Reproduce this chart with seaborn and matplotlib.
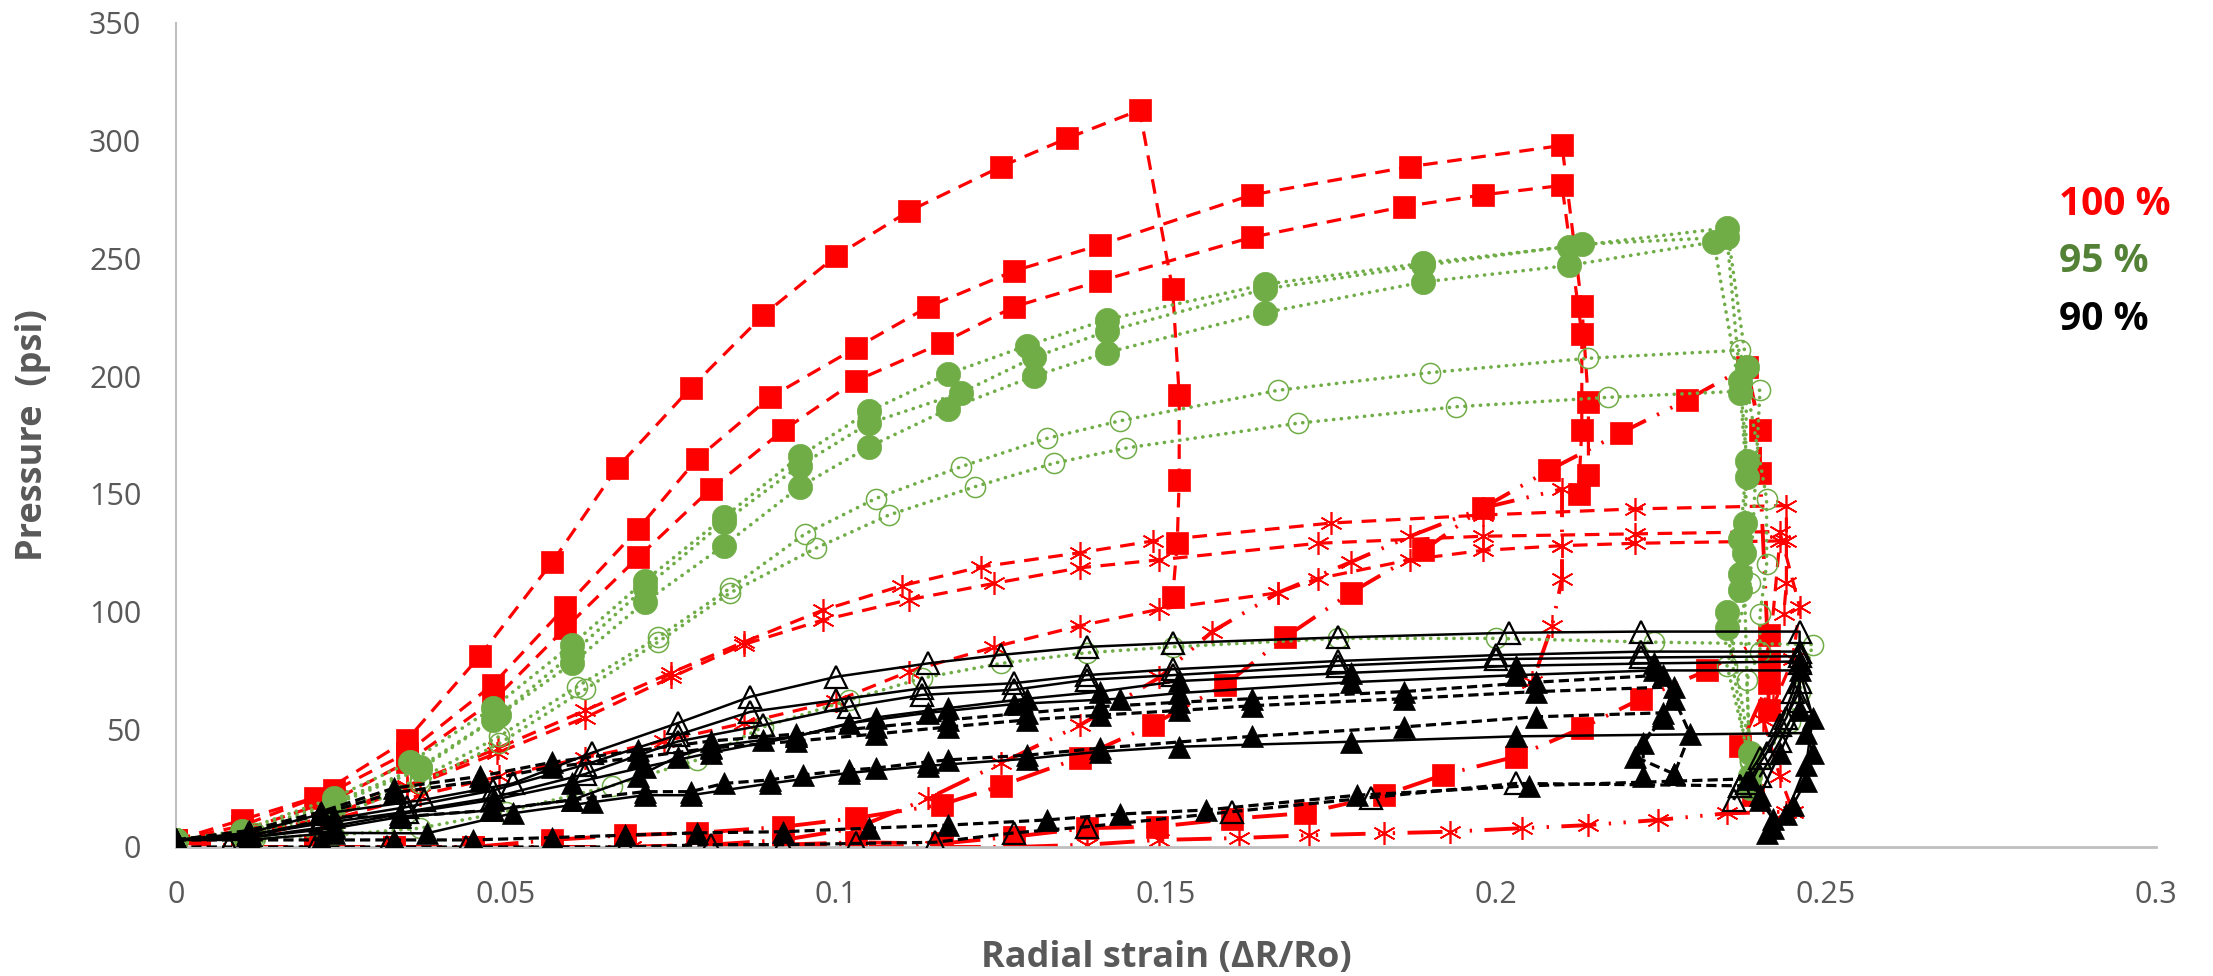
import matplotlib
matplotlib.use("Agg")
import matplotlib.pyplot as plt
import pandas as pd
import seaborn as sns

# ---------------- data ----------------
# 100 % : red squares, dashed
r1_x = [0, 0.010, 0.021, 0.035, 0.046, 0.057, 0.0668, 0.078, 0.089, 0.100, 0.111, 0.125, 0.135, 0.146, 0.151, 0.152, 0.152, 0.1517, 0.151]
r1_y = [3, 11.5, 21, 45.5, 81, 121, 161, 195, 226, 251, 270, 289, 301, 313, 237, 192, 156, 129, 106]
r2_x = [0, 0.010, 0.024, 0.035, 0.048, 0.059, 0.070, 0.079, 0.090, 0.103, 0.114, 0.127, 0.140, 0.163, 0.187, 0.210, 0.213, 0.214, 0.214]
r2_y = [3, 9, 24, 40, 69, 102, 135, 165, 191, 212, 229.5, 244.7, 255.7, 277, 289, 298, 230, 189, 158]
r3_x = [0, 0.010, 0.024, 0.035, 0.048, 0.059, 0.070, 0.081, 0.092, 0.103, 0.116, 0.127, 0.140, 0.163, 0.186, 0.198, 0.210, 0.213, 0.213, 0.2125]
r3_y = [3, 7, 20, 36, 62, 93, 123, 152, 177, 198, 214, 229.5, 240.4, 259, 272, 277, 281, 218, 177, 150]
# 100 % : red squares, long dash-dot-dot
r4_x = [0, 0.010, 0.021, 0.033, 0.045, 0.057, 0.068, 0.079, 0.092, 0.103, 0.116, 0.125, 0.137, 0.148, 0.159, 0.168, 0.178, 0.189, 0.198, 0.208, 0.219, 0.229, 0.238, 0.240, 0.240, 0.2413, 0.2413]
r4_y = [3, 0, 0, 0, 0, 3, 5, 6, 8.6, 12.3, 18, 26, 38, 52, 69, 89, 108, 126, 144, 160, 176, 190, 204, 177, 159, 79, 58]
r5_x = [0, 0.010, 0.021, 0.033, 0.045, 0.057, 0.068, 0.081, 0.092, 0.103, 0.116, 0.127, 0.138, 0.1486, 0.160, 0.171, 0.183, 0.192, 0.203, 0.213, 0.222, 0.232, 0.2413, 0.2413, 0.237, 0.239]
r5_y = [3, 0, 0, 0, 0, 0, 0, 1, 1, 2, 1.5, 4.4, 8, 8.6, 12, 14.4, 22, 30.6, 38.4, 50.5, 63, 75, 90, 69.6, 43, 22]
# 100 % : red asterisks, dashed
a1_x = [0, 0.010, 0.022, 0.035, 0.0488, 0.062, 0.075, 0.086, 0.098, 0.110, 0.122, 0.137, 0.148, 0.175, 0.198, 0.221, 0.244, 0.244, 0.244, 0.2436]
a1_y = [2, 5, 12, 26, 42, 58, 74, 87, 100.6, 111, 119, 125, 130, 137.6, 141, 143.6, 145, 130, 112, 99]
a2_x = [0, 0.010, 0.022, 0.035, 0.0487, 0.062, 0.075, 0.086, 0.098, 0.111, 0.124, 0.137, 0.149, 0.173, 0.198, 0.221, 0.243, 0.246, 0.245, 0.242]
a2_y = [2, 4, 11, 25, 40, 55, 72, 86, 96.4, 105, 112, 118.6, 122, 129, 132, 133, 134, 102, 80, 60]
a3_x = [0, 0.012, 0.024, 0.037, 0.049, 0.062, 0.074, 0.086, 0.100, 0.111, 0.124, 0.137, 0.149, 0.167, 0.173, 0.187, 0.198, 0.210, 0.221, 0.243, 0.2405, 0.243, 0.245]
a3_y = [2, 5, 12, 22, 30, 38, 45, 52.6, 62, 74.5, 85, 94, 101, 108, 114, 122, 126, 128, 129, 130, 54, 30, 15]
# 100 % : red asterisks, long dash-dot-dot
a4_x = [0, 0.010, 0.022, 0.033, 0.045, 0.057, 0.069, 0.081, 0.092, 0.103, 0.115, 0.127, 0.138, 0.149, 0.161, 0.1716, 0.183, 0.193, 0.204, 0.214, 0.2246, 0.235, 0.244]
a4_y = [2, 0, 0, 0, 0, 0, 0, 0, 0, 0, 0, 0, 1, 3, 3.8, 5, 5.8, 6.5, 8, 9.3, 11.5, 14.3, 15]
a5_x = [0, 0.011, 0.022, 0.033, 0.045, 0.057, 0.069, 0.081, 0.092, 0.103, 0.114, 0.125, 0.137, 0.149, 0.157, 0.167, 0.178, 0.187, 0.198, 0.210, 0.210, 0.210, 0.2085, 0.2055]
a5_y = [2, 0, 0, 0, 0, 0, 0, 1, 3, 8, 20.7, 35.6, 51.8, 72, 91.5, 108, 121, 132, 144, 152, 128, 114, 94, 70]

# 95 % : green filled circles, dotted
g1_x = [0, 0.010, 0.024, 0.0355, 0.048, 0.060, 0.071, 0.083, 0.0945, 0.105, 0.117, 0.129, 0.141, 0.165, 0.189, 0.211, 0.235, 0.238, 0.2377, 0.237, 0.235, 0.2385]
g1_y = [3, 7, 21, 36, 59, 86, 113, 140, 166, 185, 201, 213, 224, 239, 248, 255, 263, 204, 137.6, 116, 100, 40]
g2_x = [0, 0.010, 0.024, 0.037, 0.049, 0.060, 0.071, 0.083, 0.0945, 0.105, 0.119, 0.130, 0.141, 0.165, 0.189, 0.213, 0.235, 0.237, 0.238, 0.237, 0.237, 0.235, 0.2385]
g2_y = [3, 6, 19, 34, 56, 82, 110, 138, 162, 180, 193, 208, 219, 237, 247, 256, 259, 198, 164, 131, 109, 93, 30]
g3_x = [0, 0.010, 0.024, 0.037, 0.048, 0.060, 0.071, 0.083, 0.0945, 0.105, 0.117, 0.130, 0.141, 0.165, 0.189, 0.211, 0.233, 0.237, 0.238, 0.2375, 0.2385]
g3_y = [3, 5, 18, 33, 54, 78, 104, 128, 153, 170, 186, 200, 210, 227, 240, 247, 257, 193, 157, 125, 25]
# 95 % : green open circles, dotted
o1_x = [0, 0.012, 0.024, 0.037, 0.049, 0.0607, 0.073, 0.084, 0.0953, 0.106, 0.119, 0.132, 0.143, 0.167, 0.190, 0.214, 0.237, 0.241, 0.241, 0.240, 0.240, 0.238, 0.2385]
o1_y = [3, 6, 15, 29, 47, 68, 89, 110, 133, 148, 161.6, 173.6, 181, 194, 201.5, 207.6, 211, 148, 120, 99, 83, 71, 37]
o2_x = [0, 0.012, 0.024, 0.037, 0.049, 0.062, 0.073, 0.084, 0.097, 0.108, 0.121, 0.133, 0.144, 0.170, 0.194, 0.217, 0.240, 0.2385, 0.235, 0.2385]
o2_y = [3, 5, 13, 27, 44, 67, 87, 108, 127, 141, 153, 163, 169.5, 180, 187, 191, 194, 112, 77, 36]
o3_x = [0, 0.012, 0.024, 0.037, 0.050, 0.066, 0.079, 0.089, 0.102, 0.113, 0.125, 0.138, 0.151, 0.176, 0.200, 0.224, 0.248, 0.246, 0.2445, 0.2405]
o3_y = [3, 4, 5, 8, 15, 26, 37, 51, 62.4, 71.7, 78, 82.5, 85, 88.6, 88.6, 87, 86, 66, 53, 38]

# 90 % : black open triangles, solid
t1_x = [0, 0.011, 0.022, 0.0375, 0.051, 0.063, 0.076, 0.087, 0.100, 0.114, 0.125, 0.138, 0.151, 0.176, 0.202, 0.222, 0.246, 0.246, 0.245, 0.243, 0.240, 0.237]
t1_y = [3, 6, 14, 20, 27, 40, 52.6, 63.8, 72.3, 78, 81.6, 85, 86.6, 89, 91, 91.5, 91.5, 78, 66, 52, 38, 26]
t2_x = [0, 0.011, 0.022, 0.035, 0.048, 0.062, 0.076, 0.087, 0.100, 0.113, 0.127, 0.138, 0.151, 0.176, 0.200, 0.222, 0.246, 0.246, 0.244, 0.241, 0.238]
t2_y = [3, 5, 11, 17, 24, 35, 47.6, 57.4, 62.4, 67.4, 69.6, 73, 75.5, 79, 81.5, 83, 83, 70, 55, 40, 27]
t3_x = [0, 0.011, 0.022, 0.035, 0.048, 0.062, 0.076, 0.089, 0.102, 0.113, 0.127, 0.138, 0.151, 0.176, 0.200, 0.222, 0.246, 0.246, 0.243, 0.240]
t3_y = [3, 5, 10, 15, 21, 31, 44.8, 51.8, 59.6, 64.6, 66.8, 71, 73, 77, 79.8, 80.5, 81, 62, 45, 30]
# 90 % : black filled triangles, solid
t5_x = [0, 0.011, 0.024, 0.034, 0.048, 0.060, 0.071, 0.081, 0.094, 0.106, 0.117, 0.129, 0.140, 0.152, 0.178, 0.203, 0.224, 0.246, 0.246, 0.243, 0.240]
t5_y = [3, 4, 9, 14, 20, 27, 34, 40, 47, 55, 59, 63, 66, 70.5, 74, 77, 78, 78.8, 58, 40, 22]
t4_x = [0, 0.011, 0.024, 0.034, 0.048, 0.060, 0.070, 0.076, 0.081, 0.089, 0.094, 0.102, 0.114, 0.127, 0.143, 0.152, 0.178, 0.203, 0.224, 0.246, 0.248, 0.247, 0.244]
t4_y = [3, 4, 8, 12.8, 15.6, 20, 30, 38.4, 42.6, 45.5, 47, 52.6, 57, 60.7, 63, 65.4, 70, 73, 75, 75, 55, 35, 14]
f1_x = [0, 0.011, 0.024, 0.038, 0.051, 0.063, 0.071, 0.078, 0.090, 0.102, 0.114, 0.129, 0.140, 0.152, 0.178, 0.203, 0.247, 0.248, 0.247, 0.245, 0.242]
f1_y = [3, 3, 6, 5.8, 14.3, 19, 22, 22, 27, 31.5, 34.5, 37.5, 40.5, 42.6, 44.7, 47, 48.4, 40, 28, 18, 8]
# 90 % : black filled triangles, dashed
d1_x = [0, 0.011, 0.022, 0.033, 0.046, 0.057, 0.070, 0.081, 0.094, 0.106, 0.117, 0.129, 0.140, 0.152, 0.163, 0.186, 0.206, 0.2253, 0.227, 0.2294, 0.227]
d1_y = [3, 7, 15, 25, 30, 36, 41, 45, 48, 51, 54, 57, 59.6, 61.5, 63, 66, 70, 73, 63, 48, 31]
d2_x = [0, 0.011, 0.022, 0.033, 0.046, 0.057, 0.070, 0.081, 0.094, 0.106, 0.117, 0.129, 0.140, 0.152, 0.163, 0.186, 0.206, 0.227, 0.2253, 0.2223, 0.2223]
d2_y = [3, 6, 14, 23, 28, 34, 38, 42, 45, 48, 51, 54, 56, 58, 60, 63, 66, 68, 55, 44, 30]
d3_x = [0, 0.011, 0.024, 0.034, 0.0476, 0.060, 0.071, 0.078, 0.083, 0.090, 0.095, 0.102, 0.106, 0.114, 0.117, 0.129, 0.140, 0.163, 0.186, 0.206, 0.2253, 0.221, 0.227]
d3_y = [3, 4, 12.8, 12.8, 15.6, 20, 23.5, 23.5, 27, 28.5, 30.6, 32.7, 33.5, 36.2, 37, 39, 42, 47, 51, 55.3, 57, 38.4, 31]
l1_x = [0, 0.011, 0.022, 0.033, 0.045, 0.057, 0.068, 0.079, 0.092, 0.105, 0.117, 0.132, 0.143, 0.156, 0.179, 0.205, 0.2385, 0.240, 0.242, 0.241]
l1_y = [3, 3, 3, 3, 3, 4, 5, 6, 6.5, 8, 9.3, 11.5, 14, 15.7, 22, 26, 29, 20, 12, 6]
# 90 % : black open triangles, dashed
l2_x = [0, 0.008, 0.021, 0.032, 0.044, 0.057, 0.068, 0.081, 0.092, 0.103, 0.115, 0.127, 0.138, 0.160, 0.181, 0.203, 0.237, 0.236]
l2_y = [0, 0, 0, 0, 0, 0, 0, 1, 1, 1.5, 2, 6, 8.6, 15, 21, 27, 26, 20]

legend_labels = ["100 %", "95 %", "90 %"]
x_ticks = [0, 0.05, 0.1, 0.15, 0.2, 0.25, 0.3]
x_tick_labels = ["0", "0.05", "0.1", "0.15", "0.2", "0.25", "0.3"]
y_ticks = [0, 50, 100, 150, 200, 250, 300, 350]

# ---------------- styles ----------------
RED = "#FF0000"
GREEN = "#70AD47"
BLACK = "#000000"
GRAY = "#595959"

dash_red = (0, (4.6, 3.0))
dash_dot_dot = (0, (9.0, 3.2, 0.6, 3.2, 0.6, 3.2))
dotted = (0, (0.05, 2.1))
dash_black = (0, (3.2, 1.6))

red_sq_dash = dict(color=RED, linestyle=dash_red, linewidth=2.3, marker="s", markersize=15.5,
                   markerfacecolor=RED, markeredgecolor=RED, markeredgewidth=0.5, zorder=2)
red_sq_dd = dict(color=RED, linestyle=dash_dot_dot, linewidth=2.8, marker="s", markersize=15.5,
                 markerfacecolor=RED, markeredgecolor=RED, markeredgewidth=0.5, zorder=2)
red_ast_dash = dict(color=RED, linestyle=dash_red, linewidth=2.3, marker=(6, 2, 0), markersize=16.5,
                    markeredgecolor=RED, markeredgewidth=1.2, zorder=2)
red_ast_dd = dict(color=RED, linestyle=dash_dot_dot, linewidth=2.8, marker=(6, 2, 0), markersize=16.5,
                  markeredgecolor=RED, markeredgewidth=1.2, zorder=2)
green_fill = dict(color=GREEN, linestyle=dotted, linewidth=2.6, dash_capstyle="round", marker="o",
                  markersize=17.5, markerfacecolor=GREEN, markeredgecolor=GREEN, markeredgewidth=0.5, zorder=3)
green_open = dict(color=GREEN, linestyle=dotted, linewidth=2.6, dash_capstyle="round", marker="o",
                  markersize=14.5, markerfacecolor="none", markeredgecolor=GREEN, markeredgewidth=1.1, zorder=3)
black_open_solid = dict(color=BLACK, linestyle="-", linewidth=1.8, marker="^", markersize=16.5,
                        markerfacecolor="none", markeredgecolor=BLACK, markeredgewidth=1.6, zorder=4)
black_fill_solid = dict(color=BLACK, linestyle="-", linewidth=1.8, marker="^", markersize=16.5,
                        markerfacecolor=BLACK, markeredgecolor=BLACK, markeredgewidth=0.5, zorder=4)
black_fill_dash = dict(color=BLACK, linestyle=dash_black, linewidth=2.3, marker="^", markersize=16.5,
                       markerfacecolor=BLACK, markeredgecolor=BLACK, markeredgewidth=0.5, zorder=4)
black_open_dash = dict(color=BLACK, linestyle=dash_black, linewidth=2.3, marker="^", markersize=16.5,
                       markerfacecolor="none", markeredgecolor=BLACK, markeredgewidth=1.6, zorder=4)

series = [
    (r1_x, r1_y, red_sq_dash), (r2_x, r2_y, red_sq_dash), (r3_x, r3_y, red_sq_dash),
    (r4_x, r4_y, red_sq_dd), (r5_x, r5_y, red_sq_dd),
    (a1_x, a1_y, red_ast_dash), (a2_x, a2_y, red_ast_dash), (a3_x, a3_y, red_ast_dash),
    (a4_x, a4_y, red_ast_dd), (a5_x, a5_y, red_ast_dd),
    (g1_x, g1_y, green_fill), (g2_x, g2_y, green_fill), (g3_x, g3_y, green_fill),
    (o1_x, o1_y, green_open), (o2_x, o2_y, green_open), (o3_x, o3_y, green_open),
    (l1_x, l1_y, black_fill_dash), (l2_x, l2_y, black_open_dash),
    (d1_x, d1_y, black_fill_dash), (d2_x, d2_y, black_fill_dash), (d3_x, d3_y, black_fill_dash),
    (f1_x, f1_y, black_fill_solid), (t4_x, t4_y, black_fill_solid), (t5_x, t5_y, black_fill_solid),
    (t3_x, t3_y, black_open_solid), (t2_x, t2_y, black_open_solid), (t1_x, t1_y, black_open_solid),
]

# ---------------- figure ----------------
sns.set_style("white")
plt.rcParams["font.family"] = ["Open Sans", "DejaVu Sans"]

W, H = 2213, 976
fig = plt.figure(figsize=(W / 100, H / 100), dpi=100)
ax = fig.add_axes([176 / W, 1 - 847 / H, 1980 / W, 824 / H])

for xs, ys, st in series:
    df = pd.DataFrame({"x": xs, "y": ys})
    sns.lineplot(data=df, x="x", y="y", ax=ax, sort=False, estimator=None,
                 legend=False, **st)

ax.set_xlim(0, 0.3)
ax.set_ylim(0, 350)
ax.set_xticks(x_ticks)
ax.set_xticklabels(x_tick_labels)
ax.set_yticks(y_ticks)
ax.tick_params(axis="both", length=0, labelsize=22, labelcolor=GRAY)
ax.tick_params(axis="x", pad=24)
ax.tick_params(axis="y", pad=25)

for s in ["top", "right"]:
    ax.spines[s].set_visible(False)
ax.spines["left"].set_color("#BFBFBF")
ax.spines["left"].set_linewidth(1.5)
ax.spines["bottom"].set_color("#BFBFBF")
ax.spines["bottom"].set_linewidth(2.0)
ax.grid(False)

ax.set_xlabel("Radial strain (ΔR/Ro)", fontsize=26, fontweight="bold", color=GRAY)
ax.set_ylabel("Pressure  (psi)", fontsize=26, fontweight="bold", color=GRAY)
ax.xaxis.set_label_coords(0.5, -0.113)
ax.yaxis.set_label_coords(-0.0631, 0.5)

legend_colors = [RED, "#538135", BLACK]
legend_y = [204, 262, 320]
for lab, col, yy in zip(legend_labels, legend_colors, legend_y):
    fig.text(2059 / W, 1 - yy / H, lab, color=col, fontsize=28, fontweight="bold",
             ha="left", va="center")

fig.savefig("out.png", dpi=100)
